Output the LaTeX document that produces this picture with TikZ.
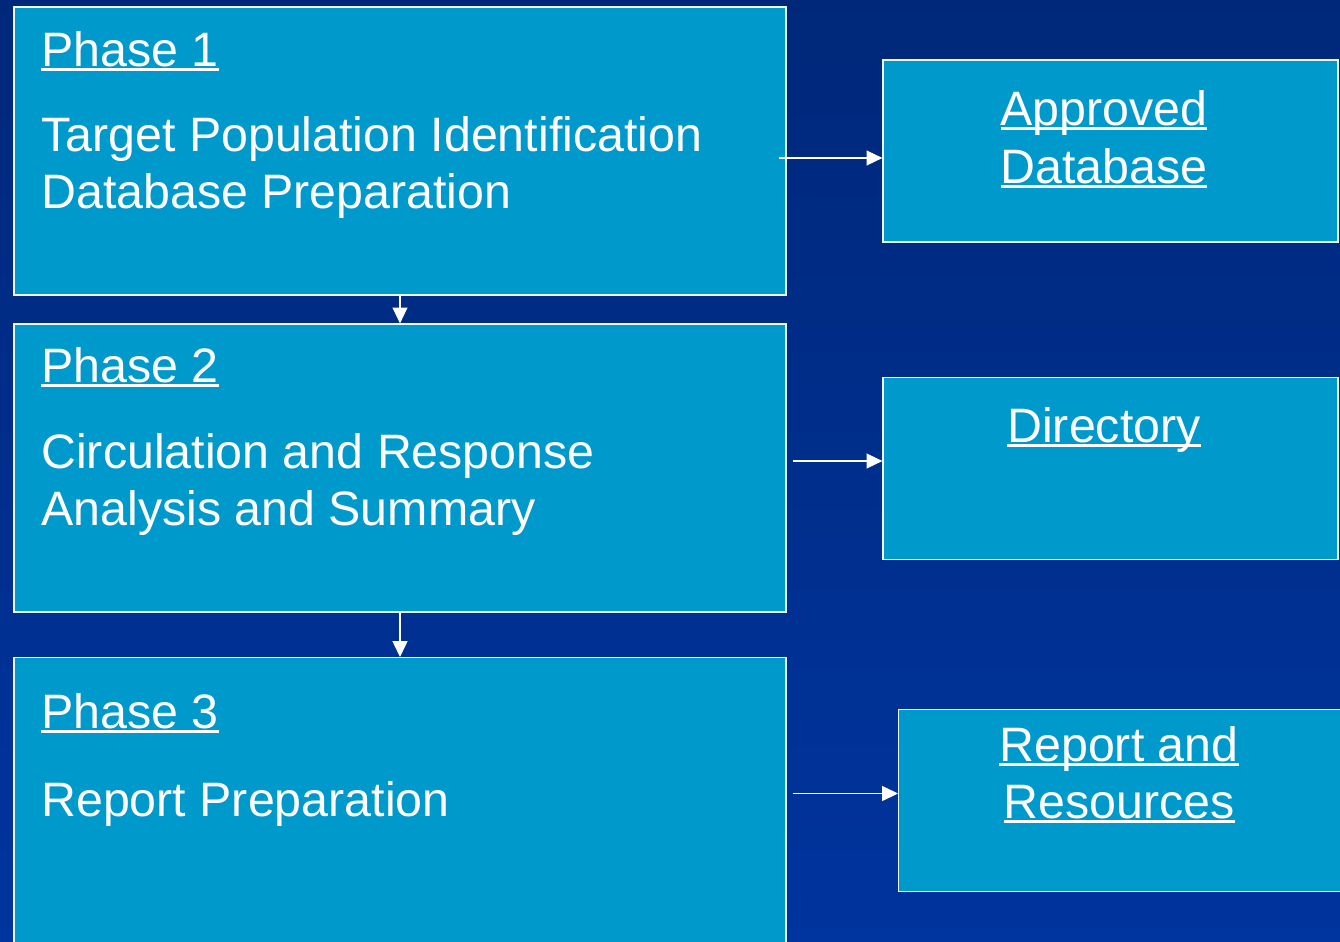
\documentclass[tikz,border=0pt]{standalone}
\usepackage{fontspec}
\setmainfont{Liberation Sans}
\usetikzlibrary{arrows.meta,positioning}

\definecolor{bgtop}{RGB}{0,40,122}
\definecolor{bgmid}{RGB}{0,50,150}
\definecolor{bgbot}{RGB}{0,52,158}
\definecolor{boxfill}{RGB}{0,153,204}

% underlined link text
\newcommand{\linkword}[1]{\setbox0\hbox{#1}\rlap{\rule[-2.8pt]{\wd0}{1.6pt}}\box0}

\tikzset{
	phasebox/.style={draw=white!92!boxfill, line width=0.7pt, fill=boxfill, minimum width=15.44cm, minimum height=5.76cm, inner sep=0pt},
	outbox/.style={draw=white!92!boxfill, line width=0.7pt, fill=boxfill, minimum width=9.10cm, minimum height=3.64cm, inner sep=0pt},
	boxtext/.style={text=white, inner sep=0pt, font=\fontsize{27.5}{33}\selectfont},
	link/.style={draw=white, line width=0.6pt, -{Triangle[length=9pt,width=8.5pt]}}
}

\begin{document}
\begin{tikzpicture}
			\useasboundingbox (0,0) rectangle (26.8,-18.82);
			\clip (0,0) rectangle (26.8,-18.82);
			\shade[top color=bgtop, middle color=bgmid, bottom color=bgbot] (0,0) rectangle (26.8,-18.82);
			
			% PHASE BOXES
			\node[phasebox] (p1) at (8.0,-3.02) {};
			\node[phasebox] (p2) at (8.0,-9.36) {};
			\node[phasebox, minimum height=7.0cm, anchor=north] (p3) at (8.0,-13.14) {};
			
			% OUTPUT BOXES
			\node[outbox] (db) at (22.21,-3.02) {};
			\node[outbox] (dir) at (22.21,-9.37) {};
			\node[outbox, minimum width=9.2cm, anchor=west] (rep) at (17.96,-16.01) {};
			
			% PHASE 1
			\node[boxtext, anchor=base west] (t1) at (0.82,-1.32) {\linkword{Phase 1}};
			\node[boxtext, anchor=base west] (t1a) at (0.82,-3.02) {Target Population Identification};
			\node[boxtext, anchor=base west] (t1b) at (0.82,-4.16) {Database Preparation};
			
			% PHASE 2
			\node[boxtext, anchor=base west] (t2) at (0.82,-7.64) {\linkword{Phase 2}};
			\node[boxtext, anchor=base west] (t2a) at (0.82,-9.36) {Circulation and Response};
			\node[boxtext, anchor=base west] (t2b) at (0.82,-10.50) {Analysis and Summary};
			
			% PHASE 3
			\node[boxtext, anchor=base west] (t3) at (0.82,-14.56) {\linkword{Phase 3}};
			\node[boxtext, anchor=base west] (t3a) at (0.82,-16.32) {Report Preparation};
			
			% OUTPUTS
			\node[boxtext, anchor=base] (o1a) at (22.08,-2.50) {\linkword{Approved}};
			\node[boxtext, anchor=base] (o1b) at (22.08,-3.66) {\linkword{Database}};
			\node[boxtext, anchor=base] (o2) at (22.08,-8.84) {\linkword{Directory}};
			\node[boxtext, anchor=base] (o3a) at (22.38,-15.22) {\linkword{Report and}};
			\node[boxtext, anchor=base] (o3b) at (22.38,-16.36) {\linkword{Resources}};
			
			% ARROWS
			\draw[link] ([xshift=-0.16cm, yshift=-0.14cm]p1.east) -- ([yshift=-0.14cm]db.west);
			\draw[link] ([xshift=0.12cm, yshift=0.14cm]p2.east) -- ([yshift=0.14cm]p2.east -| dir.west);
			\draw[link] ([xshift=0.12cm, yshift=0.14cm]p3.east |- rep.west) -- ([yshift=0.14cm]rep.west);
			\draw[link] (p1.south) -- (p2.north);
			\draw[link] (p2.south) -- (p3.north);
		\end{tikzpicture}
\end{document}
